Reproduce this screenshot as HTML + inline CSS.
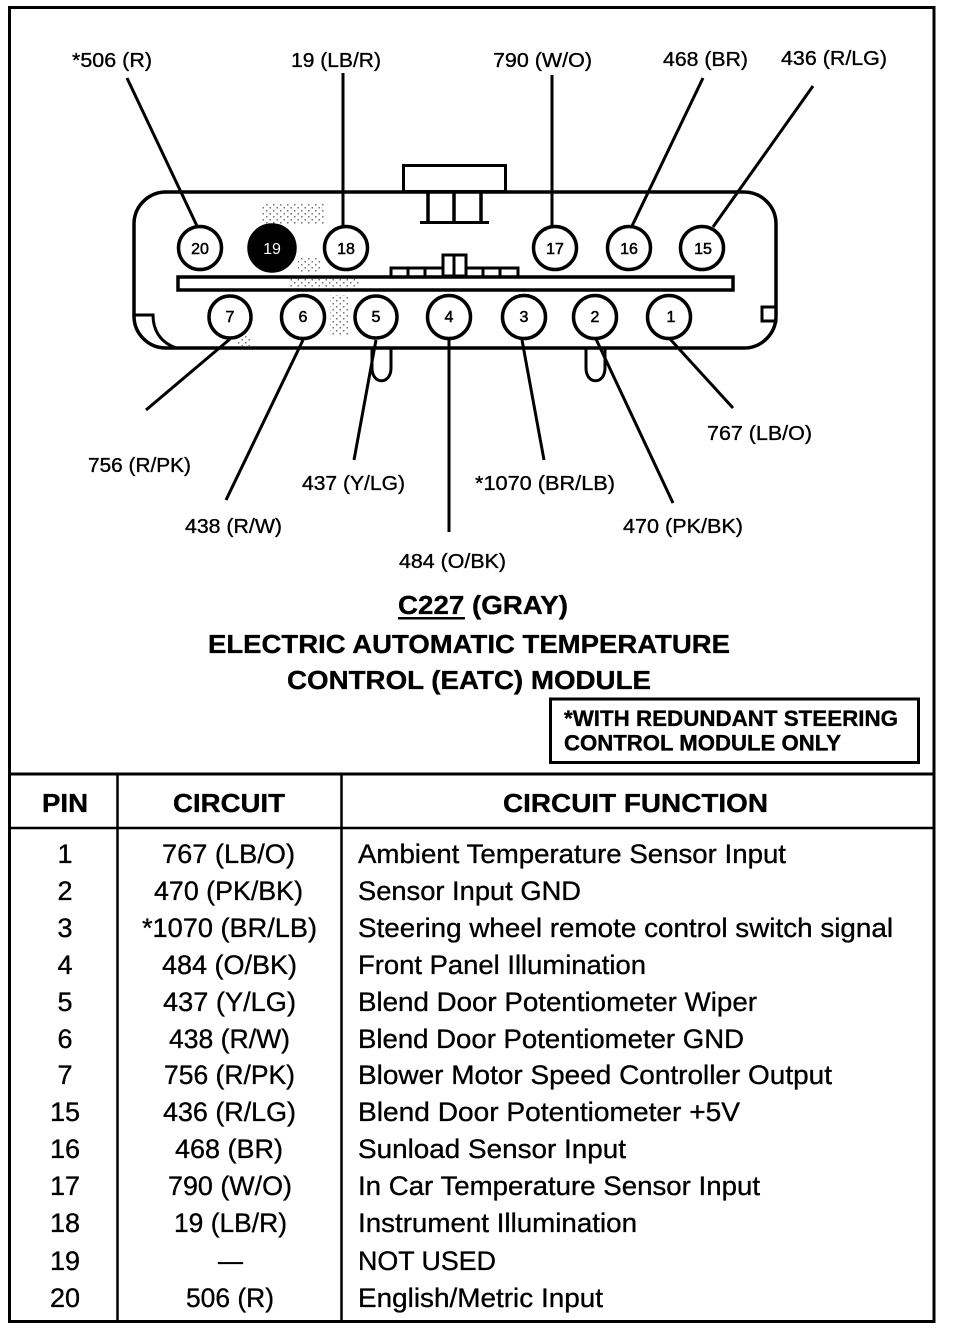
<!DOCTYPE html>
<html><head><meta charset="utf-8"><style>
html,body{margin:0;padding:0;background:#fff}
svg{display:block}
text{font-family:"Liberation Sans",sans-serif;fill:#000;stroke:#000;stroke-width:.35px}
.l{font-size:20px}
.r{font-size:27px}
.b{font-size:26px;font-weight:bold}
.n{font-size:22px;font-weight:bold}
.p{font-size:16px;font-weight:normal;text-anchor:middle;stroke-width:.5px}
</style></head><body>
<svg width="960" height="1330" viewBox="0 0 960 1330" xmlns="http://www.w3.org/2000/svg">
<defs><pattern id="st" width="7" height="6" patternUnits="userSpaceOnUse"><rect width="1.500" height="1.500" fill="#000"/><rect x="3.500" y="3" width="1.500" height="1.500" fill="#000"/></pattern></defs>
<rect width="960" height="1330" fill="#fff"/>
<rect x="9.500" y="7.500" width="924.500" height="1314" fill="none" stroke="#000" stroke-width="3"/>

<!-- stipple -->
<g fill="url(#st)" opacity=".55">
<rect x="262" y="204" width="62" height="20"/>
<rect x="298" y="258" width="22" height="14"/>
<rect x="290" y="279" width="70" height="9"/>
<rect x="330" y="295" width="20" height="40"/>
<rect x="236" y="336" width="14" height="10"/>
</g>

<!-- connector body -->
<g fill="none" stroke="#000" stroke-width="3.500">
<rect x="403.500" y="165.500" width="102" height="26" stroke-width="3"/>
<rect x="134" y="192" width="642" height="156" rx="32" ry="32"/>
<path d="M428 192V222M454 192V222M481 192V222"/>
<path d="M420 222.500H489" stroke-width="3"/>
<rect x="178" y="277" width="555" height="13" stroke-width="3.500"/>
<rect x="443" y="255" width="23" height="21" stroke-width="3"/>
<path d="M454 255V276" stroke-width="3"/>
<path d="M391 276V268H443M466 268H518V276M408 268V276M425 268V276M483 268V276M500 268V276" stroke-width="3"/>
<path d="M134 315H153C153 330 160 342 176 348" stroke-width="3"/>
<rect x="762" y="307" width="14" height="14" stroke-width="3"/>
<path d="M372 349V368C372 385 391 385 391 368V349" stroke-width="3"/>
<path d="M586 349V368C586 385 605 385 605 368V349" stroke-width="3"/>
</g>

<!-- leader lines -->
<g stroke="#000" stroke-width="3" fill="none">
<path d="M127 78L197 226"/>
<path d="M343 73V227"/>
<path d="M552 75V227"/>
<path d="M703 78L632 226"/>
<path d="M813 86L713 227"/>
<path d="M230 339L146 410"/>
<path d="M303 340L226 500"/>
<path d="M376 340L354 460"/>
<path d="M449 340V532"/>
<path d="M522 340L544 460"/>
<path d="M596 339L673 503"/>
<path d="M670 339L733 408"/>
</g>

<!-- pins -->
<g fill="#fff" stroke="#000" stroke-width="3.500">
<circle cx="200" cy="248" r="21.500"/>
<circle cx="272" cy="248" r="23" fill="#000"/>
<circle cx="346" cy="248" r="21.500"/>
<circle cx="555" cy="248" r="21.500"/>
<circle cx="629" cy="248" r="21.500"/>
<circle cx="702" cy="248" r="21.500"/>
<circle cx="230" cy="317" r="21"/>
<circle cx="303" cy="317" r="21.500"/>
<circle cx="376" cy="317" r="21"/>
<circle cx="449" cy="317" r="21.500"/>
<circle cx="524" cy="317" r="21.500"/>
<circle cx="595" cy="317" r="21.500"/>
<circle cx="669" cy="317" r="21.500"/>
</g>
<g>
<text class="p" x="200" y="254">20</text>
<text class="p" x="272" y="254" style="fill:#fff;stroke:none">19</text>
<text class="p" x="346" y="254">18</text>
<text class="p" x="555" y="254">17</text>
<text class="p" x="629" y="254">16</text>
<text class="p" x="703" y="254">15</text>
<text class="p" x="230" y="322">7</text>
<text class="p" x="303" y="322">6</text>
<text class="p" x="376" y="322">5</text>
<text class="p" x="449" y="322">4</text>
<text class="p" x="524" y="322">3</text>
<text class="p" x="595" y="322">2</text>
<text class="p" x="671" y="322">1</text>
</g>

<!-- callouts -->
<g>
<text class="l" x="72" y="67" textLength="80" lengthAdjust="spacingAndGlyphs">*506 (R)</text>
<text class="l" x="291" y="67" textLength="90" lengthAdjust="spacingAndGlyphs">19 (LB/R)</text>
<text class="l" x="493" y="67" textLength="99" lengthAdjust="spacingAndGlyphs">790 (W/O)</text>
<text class="l" x="663" y="66" textLength="85" lengthAdjust="spacingAndGlyphs">468 (BR)</text>
<text class="l" x="781" y="65" textLength="106" lengthAdjust="spacingAndGlyphs">436 (R/LG)</text>
<text class="l" x="88" y="472" textLength="103" lengthAdjust="spacingAndGlyphs">756 (R/PK)</text>
<text class="l" x="185" y="533" textLength="97" lengthAdjust="spacingAndGlyphs">438 (R/W)</text>
<text class="l" x="302" y="490" textLength="103" lengthAdjust="spacingAndGlyphs">437 (Y/LG)</text>
<text class="l" x="475" y="490" textLength="140" lengthAdjust="spacingAndGlyphs">*1070 (BR/LB)</text>
<text class="l" x="707" y="440" textLength="105" lengthAdjust="spacingAndGlyphs">767 (LB/O)</text>
<text class="l" x="623" y="533" textLength="120" lengthAdjust="spacingAndGlyphs">470 (PK/BK)</text>
<text class="l" x="399" y="568" textLength="107" lengthAdjust="spacingAndGlyphs">484 (O/BK)</text>
</g>

<!-- title -->
<g transform="translate(0,-1)">
<text class="b" x="398" y="615" textLength="170" lengthAdjust="spacingAndGlyphs">C227 (GRAY)</text>
<rect x="398" y="618" width="67" height="2.500" fill="#000"/>
<text class="b" x="208" y="654" textLength="522" lengthAdjust="spacingAndGlyphs">ELECTRIC AUTOMATIC TEMPERATURE</text>
<text class="b" x="287" y="690" textLength="364" lengthAdjust="spacingAndGlyphs">CONTROL (EATC) MODULE</text>
</g>

<!-- note -->
<rect x="550.500" y="699" width="368" height="63.500" fill="none" stroke="#000" stroke-width="3"/>
<text class="n" x="564" y="726" textLength="334" lengthAdjust="spacingAndGlyphs">*WITH REDUNDANT STEERING</text>
<text class="n" x="564" y="750.500" textLength="277" lengthAdjust="spacingAndGlyphs">CONTROL MODULE ONLY</text>

<!-- table grid -->
<g stroke="#000" fill="none">
<path d="M9 774H934" stroke-width="3"/>
<path d="M9 828H934" stroke-width="2.500"/>
<path d="M117.500 774V1322M341.500 774V1322" stroke-width="2.500"/>
</g>

<g transform="translate(0,-1)">
<text class="b" x="42" y="813" textLength="46" lengthAdjust="spacingAndGlyphs">PIN</text>
<text class="b" x="173" y="813" textLength="112" lengthAdjust="spacingAndGlyphs">CIRCUIT</text>
<text class="b" x="503" y="813" textLength="265" lengthAdjust="spacingAndGlyphs">CIRCUIT FUNCTION</text>

<g text-anchor="middle">
<text class="r" x="65" y="864">1</text>
<text class="r" x="65" y="901">2</text>
<text class="r" x="65" y="938">3</text>
<text class="r" x="65" y="975">4</text>
<text class="r" x="65" y="1012">5</text>
<text class="r" x="65" y="1049">6</text>
<text class="r" x="65" y="1085">7</text>
<text class="r" x="65" y="1122">15</text>
<text class="r" x="65" y="1159">16</text>
<text class="r" x="65" y="1196">17</text>
<text class="r" x="65" y="1233">18</text>
<text class="r" x="65" y="1271">19</text>
<text class="r" x="65" y="1308">20</text>
</g>

<text class="r" x="162" y="864" textLength="133" lengthAdjust="spacingAndGlyphs">767 (LB/O)</text>
<text class="r" x="154" y="901" textLength="149" lengthAdjust="spacingAndGlyphs">470 (PK/BK)</text>
<text class="r" x="142" y="938" textLength="175" lengthAdjust="spacingAndGlyphs">*1070 (BR/LB)</text>
<text class="r" x="162" y="975" textLength="135" lengthAdjust="spacingAndGlyphs">484 (O/BK)</text>
<text class="r" x="163" y="1012" textLength="133" lengthAdjust="spacingAndGlyphs">437 (Y/LG)</text>
<text class="r" x="169" y="1049" textLength="121" lengthAdjust="spacingAndGlyphs">438 (R/W)</text>
<text class="r" x="164" y="1085" textLength="131" lengthAdjust="spacingAndGlyphs">756 (R/PK)</text>
<text class="r" x="163" y="1122" textLength="133" lengthAdjust="spacingAndGlyphs">436 (R/LG)</text>
<text class="r" x="175" y="1159" textLength="108" lengthAdjust="spacingAndGlyphs">468 (BR)</text>
<text class="r" x="168" y="1196" textLength="124" lengthAdjust="spacingAndGlyphs">790 (W/O)</text>
<text class="r" x="174" y="1233" textLength="113" lengthAdjust="spacingAndGlyphs">19 (LB/R)</text>
<text class="r" x="218" y="1271" textLength="25" lengthAdjust="spacingAndGlyphs">—</text>
<text class="r" x="186" y="1308" textLength="88" lengthAdjust="spacingAndGlyphs">506 (R)</text>

<text class="r" x="358" y="864" textLength="428" lengthAdjust="spacingAndGlyphs">Ambient Temperature Sensor Input</text>
<text class="r" x="358" y="901" textLength="223" lengthAdjust="spacingAndGlyphs">Sensor Input GND</text>
<text class="r" x="358" y="938" textLength="535" lengthAdjust="spacingAndGlyphs">Steering wheel remote control switch signal</text>
<text class="r" x="358" y="975" textLength="288" lengthAdjust="spacingAndGlyphs">Front Panel Illumination</text>
<text class="r" x="358" y="1012" textLength="399" lengthAdjust="spacingAndGlyphs">Blend Door Potentiometer Wiper</text>
<text class="r" x="358" y="1049" textLength="386" lengthAdjust="spacingAndGlyphs">Blend Door Potentiometer GND</text>
<text class="r" x="358" y="1085" textLength="474" lengthAdjust="spacingAndGlyphs">Blower Motor Speed Controller Output</text>
<text class="r" x="358" y="1122" textLength="382" lengthAdjust="spacingAndGlyphs">Blend Door Potentiometer +5V</text>
<text class="r" x="358" y="1159" textLength="268" lengthAdjust="spacingAndGlyphs">Sunload Sensor Input</text>
<text class="r" x="358" y="1196" textLength="402" lengthAdjust="spacingAndGlyphs">In Car Temperature Sensor Input</text>
<text class="r" x="358" y="1233" textLength="279" lengthAdjust="spacingAndGlyphs">Instrument Illumination</text>
<text class="r" x="358" y="1271" textLength="138" lengthAdjust="spacingAndGlyphs">NOT USED</text>
<text class="r" x="358" y="1308" textLength="245" lengthAdjust="spacingAndGlyphs">English/Metric Input</text>
</g>
</svg>
</body></html>
